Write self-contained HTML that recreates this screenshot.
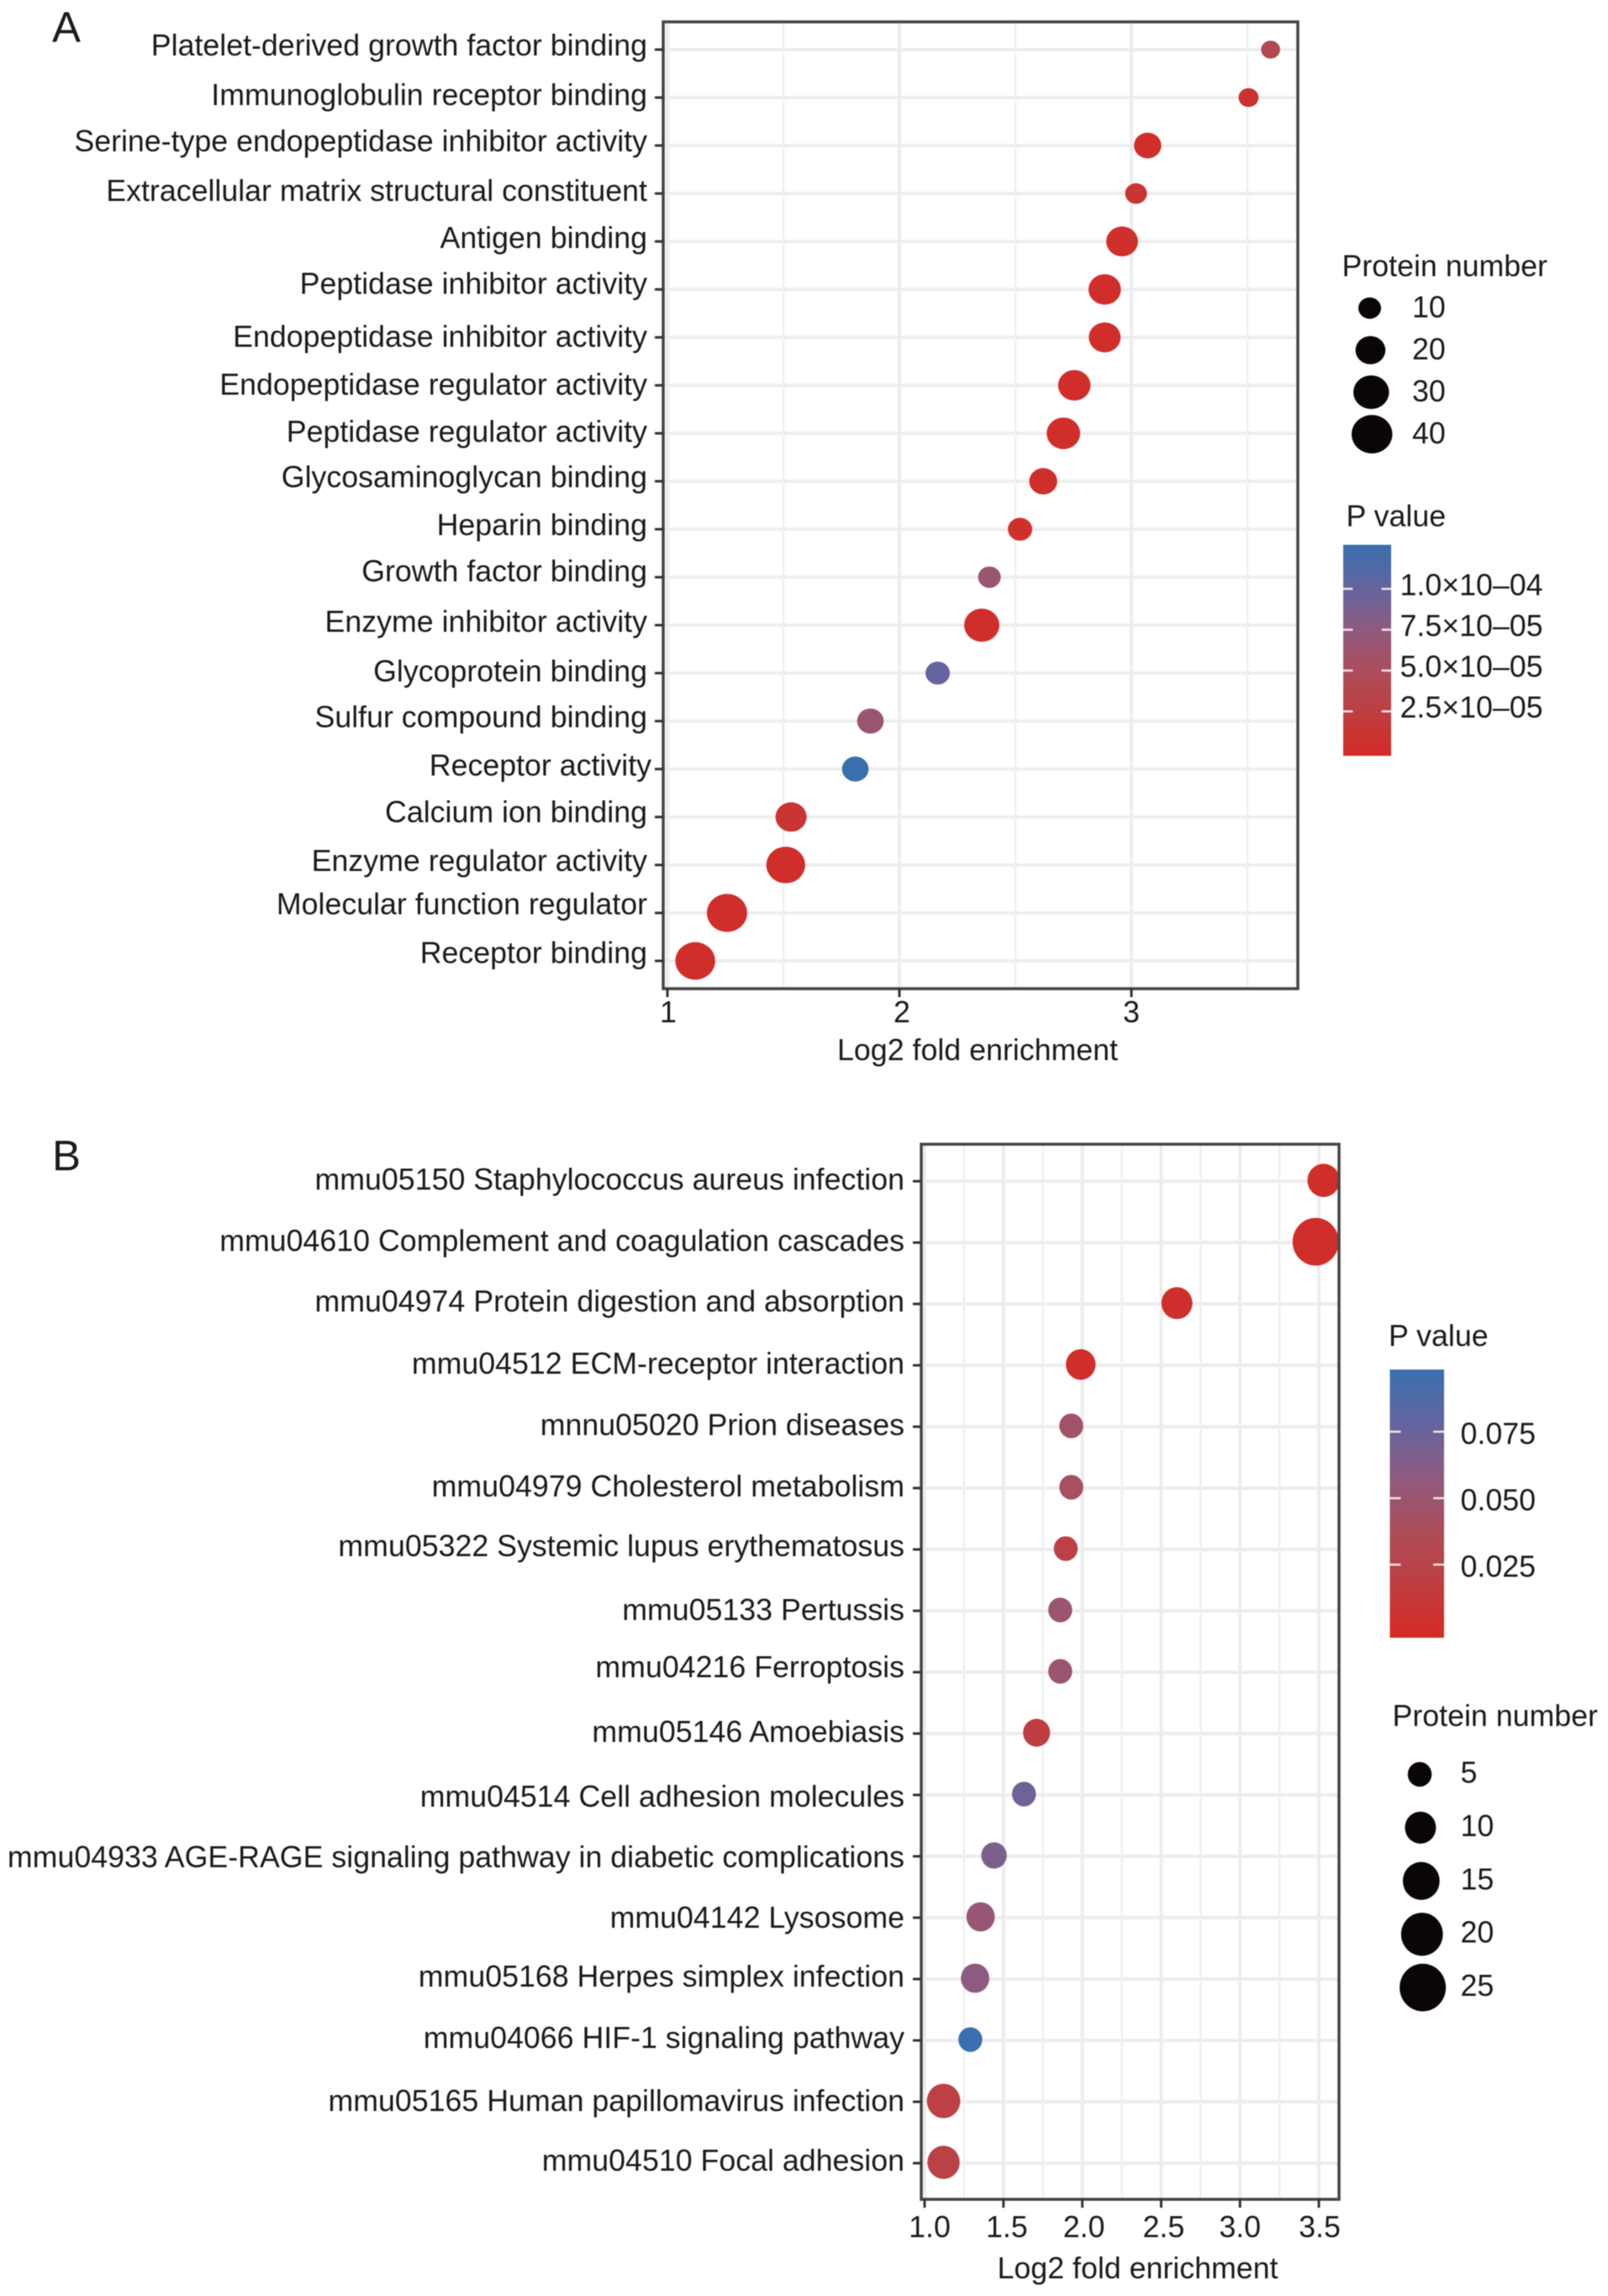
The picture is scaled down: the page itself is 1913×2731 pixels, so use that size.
<!DOCTYPE html>
<html lang="en">
<head>
<meta charset="utf-8">
<title>GO and KEGG enrichment bubble charts</title>
<style>
  html, body { margin: 0; padding: 0; background: #ffffff; }
  #figure { display: block; filter: blur(0.6px); }
  text { font-family: "Liberation Sans", sans-serif; fill: #1a1a1a; font-size: 35.75px; }
</style>
</head>
<body>
<svg id="figure" xmlns="http://www.w3.org/2000/svg" width="1913" height="2731" viewBox="0 0 1913 2731">
  <rect x="0" y="0" width="1913" height="2731" fill="#ffffff"/>
  <defs>
    <clipPath id="clip-a"><rect x="789" y="26" width="755" height="1150"/></clipPath>
    <clipPath id="clip-b"><rect x="1096" y="1361" width="497" height="1255"/></clipPath>
    <linearGradient id="pvalue-gradient" x1="0" y1="1" x2="0" y2="0"></linearGradient>
  </defs>
  <text x="62" y="50" style="font-size:51px">A</text>
  <text x="62" y="1392" style="font-size:51px">B</text>
  <g id="panel-a"></g>
  <g id="panel-b"></g>
</svg>
<script>
// ---------- Panel A data ----------
const categoriesA = [
  "Platelet-derived growth factor binding", "Immunoglobulin receptor binding",
  "Serine-type endopeptidase inhibitor activity", "Extracellular matrix structural constituent",
  "Antigen binding", "Peptidase inhibitor activity", "Endopeptidase inhibitor activity",
  "Endopeptidase regulator activity", "Peptidase regulator activity", "Glycosaminoglycan binding",
  "Heparin binding", "Growth factor binding", "Enzyme inhibitor activity", "Glycoprotein binding",
  "Sulfur compound binding", "Receptor activity", "Calcium ion binding", "Enzyme regulator activity",
  "Molecular function regulator", "Receptor binding"
];
const foldA = [3.60, 3.505, 3.07, 3.02, 2.96, 2.885, 2.885, 2.754, 2.707, 2.62, 2.52, 2.388, 2.355, 2.165, 1.875, 1.81, 1.533, 1.51, 1.257, 1.12];
const countA = [6, 7, 16, 9, 23, 24, 23, 24, 26, 17, 12, 10, 29, 12, 15, 15, 22, 36, 39, 38];
const pvalueA = [4.2e-5, 1e-5, 2e-6, 1.2e-5, 5e-6, 3e-6, 3e-6, 3e-6, 3e-6, 3e-6, 5e-6, 6.6e-5, 3e-6, 1e-4, 6.5e-5, 1.27e-4, 1.2e-5, 3e-6, 3e-6, 3e-6];
const xTicksA = [1, 2, 3];
const xMinorA = [1.5, 2.5, 3.5];
const xTickLabelsA = ["1", "2", "3"];
const sizeLegendA = [10, 20, 30, 40];
const pTicksA = [1e-4, 7.5e-5, 5e-5, 2.5e-5];
const pTickLabelsA = ["1.0\u00d710\u201304", "7.5\u00d710\u201305", "5.0\u00d710\u201305", "2.5\u00d710\u201305"];

// ---------- Panel B data ----------
const categoriesB = [
  "mmu05150 Staphylococcus aureus infection", "mmu04610 Complement and coagulation cascades",
  "mmu04974 Protein digestion and absorption", "mmu04512 ECM-receptor interaction",
  "mnnu05020 Prion diseases", "mmu04979 Cholesterol metabolism", "mmu05322 Systemic lupus erythematosus",
  "mmu05133 Pertussis", "mmu04216 Ferroptosis", "mmu05146 Amoebiasis", "mmu04514 Cell adhesion molecules",
  "mmu04933 AGE-RAGE signaling pathway in diabetic complications", "mmu04142 Lysosome",
  "mmu05168 Herpes simplex infection", "mmu04066 HIF-1 signaling pathway",
  "mmu05165 Human papillomavirus infection", "mmu04510 Focal adhesion"
];
const foldB = [3.53, 3.48, 2.60, 1.99, 1.93, 1.93, 1.895, 1.86, 1.86, 1.71, 1.63, 1.44, 1.355, 1.32, 1.29, 1.12, 1.12];
const countB = [11, 25, 10, 9, 5, 5, 5, 5, 5, 7, 5, 6, 8, 8, 5, 12, 11];
const pvalueB = [0.002, 0.002, 0.003, 0.002, 0.045, 0.042, 0.02, 0.05, 0.05, 0.017, 0.072, 0.066, 0.052, 0.058, 0.098, 0.02, 0.022];
const xTicksB = [1.0, 1.5, 2.0, 2.5, 3.0, 3.5];
const xMinorB = [1.25, 1.75, 2.25, 2.75, 3.25];
const xTickLabelsB = ["1.0", "1.5", "2.0", "2.5", "3.0", "3.5"];
const sizeLegendB = [5, 10, 15, 20, 25];
const pTicksB = [0.075, 0.05, 0.025];
const pTickLabelsB = ["0.075", "0.050", "0.025"];

// ---------- Layout tweaks (not data): per-label baseline drift seen in the figure ----------
const labelDropA = [7, 9, 7, 9, 8, 5, 11, 11, 10, 7, 7, 5, 8, 10, 7.5, 7.5, 6, 7, 1.5, 2.5];
const labelDropB = [10, 10, 9, 10, 10, 10, 8, 11, 6, 10, 14, 13, 12, 9, 9, 11, 9];
const tickLabelNudgeA = [1, 3, 0];
const tickLabelNudgeB = [6, 4, 2, 3, 0, 1];
const colorStops = [
  [0.00, [213, 42, 36]], [0.21, [189, 63, 66]], [0.405, [172, 77, 90]],
  [0.60, [142, 91, 128]], [0.79, [101, 100, 158]], [1.00, [58, 111, 174]]
];

const SVG_NS = "http://www.w3.org/2000/svg";
function make(parent, tag, attrs, text) {
  const el = document.createElementNS(SVG_NS, tag);
  for (const k in attrs) el.setAttribute(k, attrs[k]);
  if (text !== undefined) el.textContent = text;
  parent.appendChild(el);
  return el;
}
function colorAt(t) {
  t = Math.max(0, Math.min(1, t));
  for (let i = 1; i < colorStops.length; i++) {
    if (t <= colorStops[i][0]) {
      const a = colorStops[i - 1], b = colorStops[i];
      const f = (t - a[0]) / (b[0] - a[0]);
      const c = a[1].map((v, j) => Math.round(v + (b[1][j] - v) * f));
      return "rgb(" + c.join(",") + ")";
    }
  }
  return "rgb(58,111,174)";
}
const gradient = document.getElementById("pvalue-gradient");
colorStops.forEach(s => {
  make(gradient, "stop", { offset: s[0], "stop-color": colorAt(s[0]) });
});

function drawPanel(g, cfg) {
  const xScale = v => cfg.x0 + (v - cfg.xBase) * cfg.xUnit;
  const yScale = i => cfg.y0 + i * cfg.yStep;
  const width = n => Math.sqrt(cfg.sizeK * (n + cfg.sizeOffset));
  const pT = p => (p - cfg.pMin) / (cfg.pMax - cfg.pMin);
  const pY = p => cfg.barBottom - pT(p) * (cfg.barBottom - cfg.barTop);

  // Panel background
  const bg = make(g, "rect", { x: cfg.left, y: cfg.top, width: cfg.right - cfg.left, height: cfg.bottom - cfg.top, fill: "#ffffff" });
  
  

  // Grid lines
  cfg.categories.forEach((c, i) => {
    const line = make(g, "line", { x1: cfg.left, x2: cfg.right, y1: yScale(i), y2: yScale(i), stroke: "#ededed", "stroke-width": 4 });
    
    
  });
  cfg.xMinor.forEach(v => {
    const line = make(g, "line", { x1: xScale(v), x2: xScale(v), y1: cfg.top, y2: cfg.bottom, stroke: "#f0f0f0", "stroke-width": 2.5 });
    
    
  });
  cfg.xTicks.forEach(v => {
    const line = make(g, "line", { x1: xScale(v), x2: xScale(v), y1: cfg.top, y2: cfg.bottom, stroke: "#ededed", "stroke-width": 4 });
    
    
  });

  // Points
  const points = make(g, "g", { "clip-path": "url(#" + cfg.clip + ")" });
  
  
  cfg.categories.forEach((c, i) => {
    const w = width(cfg.count[i]);
    const dot = make(points, "ellipse", {
      cx: xScale(cfg.fold[i]), cy: yScale(i) - cfg.pointLift, rx: w / 2, ry: w / 2 / cfg.aspect,
      fill: colorAt(pT(cfg.pvalue[i]))
    });
    
    
  });

  // Border
  const border = make(g, "rect", { x: cfg.left, y: cfg.top, width: cfg.right - cfg.left, height: cfg.bottom - cfg.top, fill: "none", stroke: "#444444", "stroke-width": 3.5 });
  
  

  // Y axis ticks and labels
  cfg.categories.forEach((c, i) => {
    const tick = make(g, "line", { x1: cfg.left - 10, x2: cfg.left, y1: yScale(i), y2: yScale(i), stroke: "#333333", "stroke-width": 3 });
    
    
    const nudge = (cfg.labelShift && cfg.labelShift[i]) || 0;
    const label = make(g, "text", { x: cfg.labelRight + nudge, y: yScale(i) + cfg.labelDrop[i], "text-anchor": "end" }, c);
    
    
  });

  // X axis ticks and labels
  cfg.xTicks.forEach((v, i) => {
    const tick = make(g, "line", { x1: xScale(v), x2: xScale(v), y1: cfg.bottom, y2: cfg.bottom + 10, stroke: "#333333", "stroke-width": 3 });
    
    
    const label = make(g, "text", { x: xScale(v) + cfg.tickNudge[i], y: cfg.xLabelY, "text-anchor": "middle" }, cfg.xLabels[i]);
    
    
  });
  const xTitle = make(g, "text", { x: cfg.xTitleX, y: cfg.xTitleY, "text-anchor": "middle" }, "Log2 fold enrichment");
  
  

  // Size legend
  const sizeTitle = make(g, "text", { x: cfg.sizeTitleX, y: cfg.sizeTitleY }, "Protein number");
  
  
  cfg.sizeLegend.forEach((n, i) => {
    const cy = cfg.sizeY0 + i * cfg.sizeStep;
    const w = width(n);
    const key = make(g, "ellipse", { cx: cfg.sizeX + i * 0.9, cy: cy, rx: w / 2, ry: w / 2 / cfg.aspect, fill: "#0a0606" });
    
    
    const label = make(g, "text", { x: cfg.sizeLabelX, y: cy + cfg.sizeLabelDrop }, String(n));
    
    
  });

  // Colour bar legend
  const colorTitle = make(g, "text", { x: cfg.colorTitleX, y: cfg.colorTitleY }, "P value");
  
  
  const bar = make(g, "rect", { x: cfg.barLeft, y: cfg.barTop, width: cfg.barWidth, height: cfg.barBottom - cfg.barTop, fill: "url(#pvalue-gradient)" });
  
  
  cfg.pTicks.forEach((p, i) => {
    const y = pY(p);
    const t1 = make(g, "line", { x1: cfg.barLeft, x2: cfg.barLeft + cfg.barWidth / 5, y1: y, y2: y, stroke: "#f6e3ea", "stroke-width": 2.5 });
    
    
    const t2 = make(g, "line", { x1: cfg.barLeft + cfg.barWidth * 0.8, x2: cfg.barLeft + cfg.barWidth, y1: y, y2: y, stroke: "#f6e3ea", "stroke-width": 2.5 });
    
    
    const label = make(g, "text", { x: cfg.colorLabelX, y: y + cfg.colorLabelDrop }, cfg.pLabels[i]);
    
    
  });
}

drawPanel(document.getElementById("panel-a"), {
  categories: categoriesA, fold: foldA, count: countA, pvalue: pvalueA,
  xTicks: xTicksA, xMinor: xMinorA, xLabels: xTickLabelsA, tickNudge: tickLabelNudgeA,
  labelDrop: labelDropA, labelShift: { 15: 5 }, labelRight: 770,
  left: 789, right: 1544, top: 26, bottom: 1176, clip: "clip-a",
  xBase: 1, x0: 794, xUnit: 276, y0: 59, yStep: 57.05, pointLift: 0,
  sizeK: 54, sizeOffset: 3.5, aspect: 1.06,
  pMin: -2.2e-6, pMax: 1.27e-4,
  xLabelY: 1216, xTitleX: 1163, xTitleY: 1261,
  sizeLegend: sizeLegendA, sizeTitleX: 1596.5, sizeTitleY: 328.5, sizeX: 1629.5, sizeY0: 366.5, sizeStep: 50, sizeLabelX: 1680, sizeLabelDrop: 11,
  pTicks: pTicksA, pLabels: pTickLabelsA, colorTitleX: 1601.5, colorTitleY: 626,
  barLeft: 1598, barWidth: 57, barTop: 648, barBottom: 899, colorLabelX: 1665.5, colorLabelDrop: 7.5
});

drawPanel(document.getElementById("panel-b"), {
  categories: categoriesB, fold: foldB, count: countB, pvalue: pvalueB,
  xTicks: xTicksB, xMinor: xMinorB, xLabels: xTickLabelsB, tickNudge: tickLabelNudgeB,
  labelDrop: labelDropB, labelRight: 1076,
  left: 1096, right: 1593, top: 1361, bottom: 2616, clip: "clip-b",
  xBase: 1, x0: 1100, xUnit: 187.6, y0: 1405, yStep: 73, pointLift: 1,
  sizeK: 110.7, sizeOffset: 2.33, aspect: 0.97,
  pMin: -0.0025, pMax: 0.0984,
  xLabelY: 2661, xTitleX: 1353.5, xTitleY: 2710,
  sizeLegend: sizeLegendB, sizeTitleX: 1656.5, sizeTitleY: 2053, sizeX: 1689, sizeY0: 2110.5, sizeStep: 63.4, sizeLabelX: 1737.5, sizeLabelDrop: 10,
  pTicks: pTicksB, pLabels: pTickLabelsB, colorTitleX: 1652, colorTitleY: 1601,
  barLeft: 1653.5, barWidth: 64.5, barTop: 1629, barBottom: 1948, colorLabelX: 1737.5, colorLabelDrop: 14.5
});
</script>
</body>
</html>
